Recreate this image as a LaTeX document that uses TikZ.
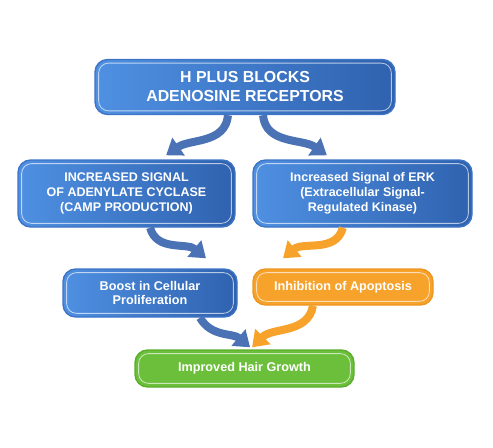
\documentclass[tikz,border=0pt]{standalone}
\usepackage{fontspec}
\setsansfont{Liberation Sans}
\usepackage{tikz}
\usetikzlibrary{arrows.meta}

\definecolor{blueL}{HTML}{4F90E2}
\definecolor{blueR}{HTML}{2F62AF}
\definecolor{blueEdge}{HTML}{3E74C6}
\definecolor{arrBlue}{HTML}{4A72B4}
\definecolor{orangeFill}{HTML}{F6A22B}
\definecolor{orangeEdge}{HTML}{EE9620}
\definecolor{greenFill}{HTML}{6BBF3B}
\definecolor{greenEdge}{HTML}{5AAE2C}

\begin{document}
\begin{tikzpicture}[
  font=\sffamily\bfseries, text=white,
  inset/.style={path picture={
      \draw[white, opacity=0.65, line width=0.6pt, rounded corners=7pt]
        ([shift={(2.6pt,2.6pt)}]path picture bounding box.south west) rectangle
        ([shift={(-2.6pt,-2.6pt)}]path picture bounding box.north east);}},
  bluebox/.style={draw=blueEdge, line width=1pt, rounded corners=9pt,
                  left color=blueL, right color=blueR, align=center, inset},
  orangebox/.style={draw=orangeEdge, line width=1pt, rounded corners=9pt,
                    fill=orangeFill, align=center, inset},
  greenbox/.style={draw=greenEdge, line width=1pt, rounded corners=9pt,
                   fill=greenFill, align=center, inset},
  arr/.style={-{Triangle[width=0.52cm, length=0.38cm]}, line width=0.2cm},
  barr/.style={arr, draw=arrBlue},
  oarr/.style={arr, draw=orangeFill}
]
\useasboundingbox (0,0) rectangle (12.325,-11.2);

\node[bluebox, minimum width=7.5cm, minimum height=1.375cm,
      font=\sffamily\bfseries\fontsize{11.3}{13.5}\selectfont]
  (hplus) at (6.125,-2.175) {H PLUS BLOCKS\\ADENOSINE RECEPTORS};

\node[bluebox, minimum width=5.425cm, minimum height=1.675cm,
      font=\sffamily\bfseries\fontsize{8.9}{10.7}\selectfont]
  (adcy) at (3.1625,-4.8375) {INCREASED SIGNAL\\OF ADENYLATE CYCLASE\\(CAMP PRODUCTION)};
\node[bluebox, minimum width=5.475cm, minimum height=1.675cm,
      font=\sffamily\bfseries\fontsize{8.9}{10.7}\selectfont]
  (erk) at (9.0625,-4.8375) {Increased Signal of ERK\\(Extracellular Signal-\\Regulated Kinase)};

\node[bluebox, minimum width=4.35cm, minimum height=1.2cm,
      font=\sffamily\bfseries\fontsize{9}{10.2}\selectfont]
  (prolif) at (3.75,-7.325) {Boost in Cellular\\Proliferation};
\node[orangebox, minimum width=4.5cm, minimum height=0.9cm,
      font=\sffamily\bfseries\fontsize{9}{10.2}\selectfont]
  (apopt) at (8.575,-7.175) {Inhibition of Apoptosis};

\node[greenbox, minimum width=5.475cm, minimum height=0.925cm,
      font=\sffamily\bfseries\fontsize{9}{10.2}\selectfont]
  (hair) at (6.1125,-9.2125) {Improved Hair Growth};

\draw[barr] ([xshift=-0.425cm]hplus.south) to[out=-95, in=35]
  ([xshift=0.99cm, yshift=0.1cm]adcy.north);
\draw[barr] ([xshift=0.45cm]hplus.south) to[out=-85, in=145]
  ([xshift=-0.89cm, yshift=0.1cm]erk.north);
\draw[barr] ([xshift=0.59cm]adcy.south) to[out=-75, in=140]
  ([xshift=1.4cm, yshift=0.25cm]prolif.north);
\draw[oarr] ([xshift=-0.49cm]erk.south) to[out=-105, in=40]
  ([xshift=-1.5cm, yshift=0.25cm]apopt.north);
\draw[barr] ([xshift=1.25cm]prolif.south) to[out=-60, in=140]
  ([xshift=0.14cm, yshift=0.05cm]hair.north);
\draw[oarr] ([xshift=-0.75cm]apopt.south) to[out=-100, in=45]
  ([xshift=0.19cm, yshift=0.05cm]hair.north);
\end{tikzpicture}
\end{document}
